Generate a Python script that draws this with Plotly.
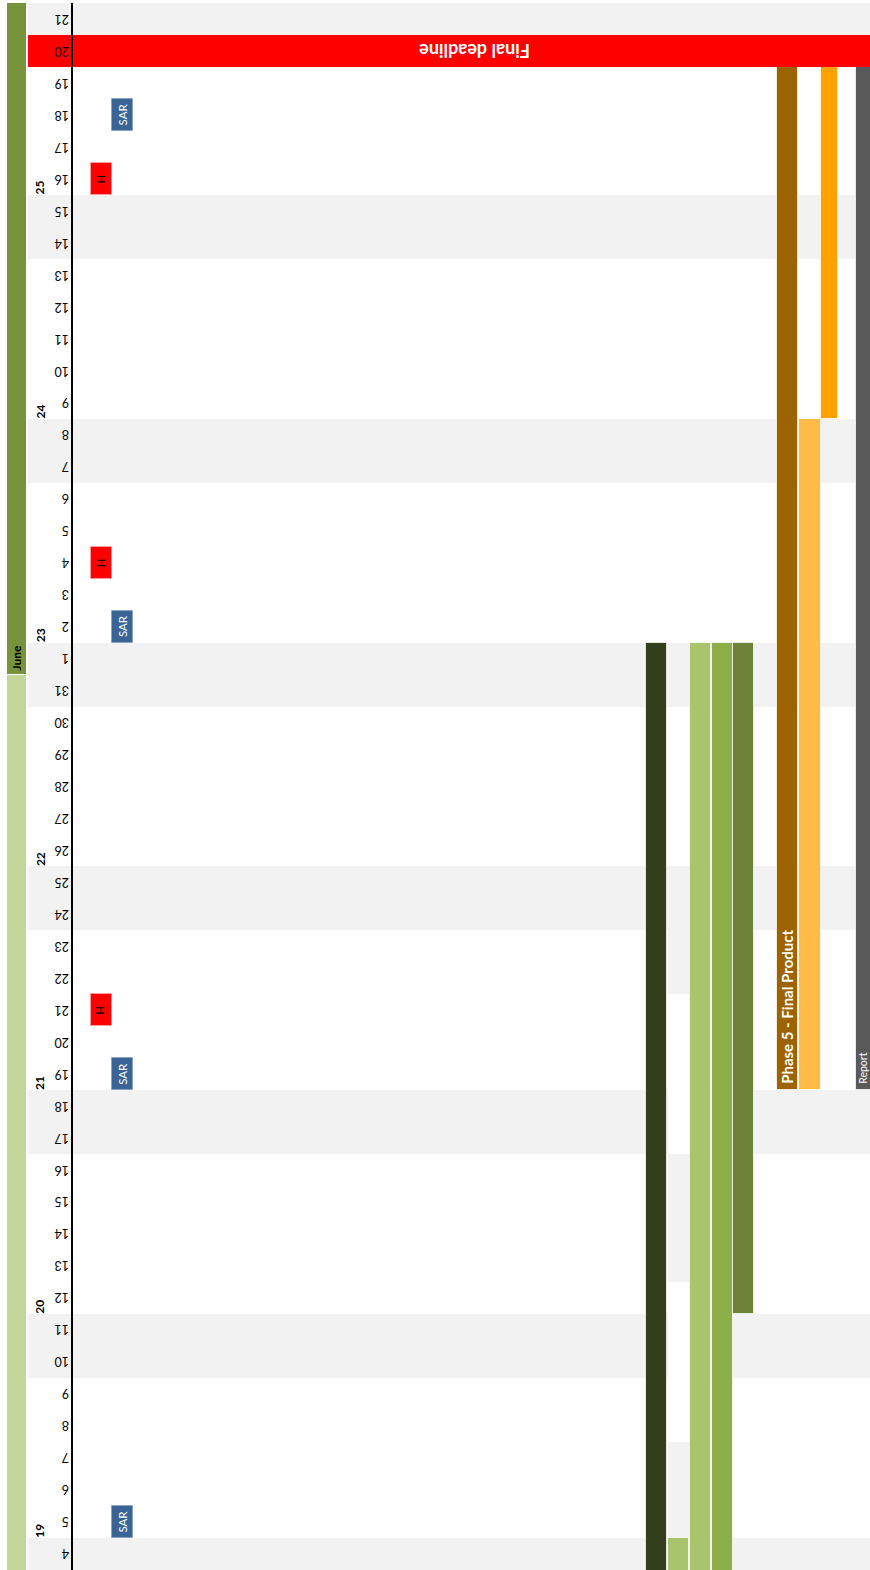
import datetime as dt
import plotly.graph_objects as go

# ---------------------------------------------------------------- data
FIRST_DAY = "2014-05-04"          # bottom row of the calendar
LAST_DAY = "2014-06-21"           # top row of the calendar

weekend_days = ["2014-05-04", "2014-05-10", "2014-05-11", "2014-05-17", "2014-05-18",
                "2014-05-24", "2014-05-25", "2014-05-31", "2014-06-01", "2014-06-07",
                "2014-06-08", "2014-06-14", "2014-06-15", "2014-06-21"]

week_numbers = [19, 20, 21, 22, 23, 24, 25]
week_mondays = ["2014-05-05", "2014-05-12", "2014-05-19", "2014-05-26",
                "2014-06-02", "2014-06-09", "2014-06-16"]

month_names = ["May", "June"]
month_starts = ["2014-05-01", "2014-06-01"]
month_ends = ["2014-05-31", "2014-06-30"]

task_labels = ["", "", "", "", "", "Phase 5 - Final Product", "", "", "Report"]
task_starts = ["2014-04-22", "2014-04-22", "2014-04-28", "2014-04-28", "2014-05-12",
               "2014-05-19", "2014-05-19", "2014-06-09", "2014-05-19"]
task_ends = ["2014-06-01", "2014-05-04", "2014-06-01", "2014-06-01", "2014-06-01",
             "2014-06-19", "2014-06-08", "2014-06-19", "2014-06-19"]

# open (non-working) window and buffer blocks in the second lane
lane2_window = ("2014-05-05", "2014-05-23")
buffer_starts = ["2014-05-05", "2014-05-13", "2014-05-22"]
buffer_ends = ["2014-05-07", "2014-05-16", "2014-05-23"]

holiday_days = ["2014-05-21", "2014-06-04", "2014-06-16"]
sar_days = ["2014-05-05", "2014-05-19", "2014-06-02", "2014-06-18"]

deadline_day = "2014-06-20"
deadline_label = "Final deadline"

# ---------------------------------------------------------------- layout / style
W, H = 870, 1570
FONT = "Lato"

task_x = [656.5, 678.5, 700.5, 722.0, 743.5, 787.5, 810.0, 829.5, 866.0]
task_w = [21, 21, 21, 21, 21, 21, 22, 17, 21]
task_colors = ["#333f1c", "#a8c46c", "#a8c46c", "#8daf4a", "#6b8237",
               "#9c6300", "#ffbb47", "#ffa200", "#595959"]
# label style per task: (font size, bold, horizontal nudge in px)
task_label_style = [None, None, None, None, None,
                    (15, True, 0), None, None, (10.5, False, -3)]

MONTH_X, MONTH_W = 17, 20
month_colors = ["#c4d79b", "#77933c"]
BAND_X0, BAND_X1 = 28, W
DEADLINE_TEXT_X = 475
HOLIDAY_X, SAR_X, MS_W = 101, 122.5, 21
AXIS_X = 72

first = dt.date.fromisoformat(FIRST_DAY)
last = dt.date.fromisoformat(LAST_DAY)
n_days = (last - first).days + 1


def di(s):
    """Row index of a date (0 = first visible day)."""
    return (dt.date.fromisoformat(s) - first).days


def span(s, e):
    return di(s), di(e) - di(s) + 1


fig = go.Figure()
edge = dict(color="rgba(255,255,255,0.75)", width=1)

# weekend shading
fig.add_trace(go.Bar(
    x=[(BAND_X0 + BAND_X1) / 2] * len(weekend_days),
    base=[di(s) for s in weekend_days], y=[1] * len(weekend_days),
    width=[BAND_X1 - BAND_X0] * len(weekend_days),
    marker=dict(color="#f2f2f2", line=dict(width=0)), hoverinfo="skip"))

# month strip
for name, s, e, c in zip(month_names, month_starts, month_ends, month_colors):
    b, L = span(s, e)
    fig.add_trace(go.Bar(x=[MONTH_X], base=[b], y=[L], width=[MONTH_W],
                         marker=dict(color=c, line=dict(color="white", width=1)),
                         hoverinfo="skip"))
    if 0 <= b < n_days:
        fig.add_annotation(x=MONTH_X, y=b, xref="x", yref="y", text=name,
                           textangle=-90, yanchor="bottom", yshift=2, showarrow=False,
                           font=dict(family=FONT, size=12, color="black", weight="bold"))

# lane two: cleared window with buffer blocks
b, L = span(*lane2_window)
fig.add_trace(go.Bar(x=[task_x[1]], base=[b], y=[L], width=[task_w[1] + 1],
                     marker=dict(color="white", line=dict(width=0)), hoverinfo="skip"))
fig.add_trace(go.Bar(
    x=[task_x[1]] * len(buffer_starts),
    base=[span(s, e)[0] for s, e in zip(buffer_starts, buffer_ends)],
    y=[span(s, e)[1] for s, e in zip(buffer_starts, buffer_ends)],
    width=[task_w[1] + 1] * len(buffer_starts),
    marker=dict(color="#f2f2f2", line=dict(width=0)), hoverinfo="skip"))

# task bars
for i, (s, e) in enumerate(zip(task_starts, task_ends)):
    b, L = span(s, e)
    fig.add_trace(go.Bar(x=[task_x[i]], base=[b], y=[L], width=[task_w[i]],
                         marker=dict(color=task_colors[i], line=edge), hoverinfo="skip"))
    if task_labels[i] and task_label_style[i]:
        size, bold, nudge = task_label_style[i]
        fig.add_annotation(x=task_x[i], y=max(b, 0), xref="x", yref="y",
                           text=task_labels[i], textangle=-90, yanchor="bottom",
                           xshift=nudge, yshift=4, showarrow=False,
                           font=dict(family=FONT, size=size, color="white",
                                     weight="bold" if bold else "normal"))

# milestones
fig.add_trace(go.Bar(x=[HOLIDAY_X] * len(holiday_days), base=[di(s) for s in holiday_days],
                     y=[1] * len(holiday_days), width=[MS_W] * len(holiday_days),
                     marker=dict(color="#ff0000", line=dict(color="#ff9a9a", width=1)),
                     hoverinfo="skip"))
fig.add_trace(go.Bar(x=[SAR_X] * len(sar_days), base=[di(s) for s in sar_days],
                     y=[1] * len(sar_days), width=[MS_W] * len(sar_days),
                     marker=dict(color="#3b6496", line=dict(color="#8aa4c8", width=1)),
                     hoverinfo="skip"))
for s in holiday_days:
    fig.add_annotation(x=HOLIDAY_X, y=di(s) + 0.5, xref="x", yref="y", text="H",
                       textangle=90, showarrow=False,
                       font=dict(family=FONT, size=11, color="black"))
for s in sar_days:
    fig.add_annotation(x=SAR_X, y=di(s) + 0.5, xref="x", yref="y", text="SAR",
                       textangle=-90, showarrow=False,
                       font=dict(family=FONT, size=11.5, color="white"))

# deadline band
fig.add_trace(go.Bar(x=[(BAND_X0 + BAND_X1) / 2], base=[di(deadline_day)], y=[1],
                     width=[BAND_X1 - BAND_X0],
                     marker=dict(color="#ff0000", line=dict(width=0)), hoverinfo="skip"))
fig.add_annotation(x=DEADLINE_TEXT_X, y=di(deadline_day) + 0.5, xref="x", yref="y",
                   text=deadline_label, textangle=180, showarrow=False,
                   font=dict(family=FONT, size=18, color="white", weight="bold"))

# day numbers (upside down) and ISO week numbers
for k in range(n_days):
    day = first + dt.timedelta(days=k)
    fig.add_annotation(x=AXIS_X - 1, y=k + 0.5, xref="x", yref="y", text=str(day.day),
                       textangle=180, xanchor="right", showarrow=False,
                       font=dict(family=FONT, size=12.5, color="black"))
for wk, mon in zip(week_numbers, week_mondays):
    fig.add_annotation(x=40, y=di(mon) + 0.23, xref="x", yref="y", text=str(wk),
                       textangle=-90, showarrow=False,
                       font=dict(family=FONT, size=12, color="black", weight="bold"))

fig.update_layout(
    width=W, height=H, margin=dict(l=0, r=0, t=3, b=0),
    paper_bgcolor="white", plot_bgcolor="white",
    barmode="overlay", bargap=0, showlegend=False,
    xaxis=dict(range=[0, W], visible=False, fixedrange=True),
    yaxis=dict(range=[0, n_days], anchor="free", position=AXIS_X / W,
               showline=True, linecolor="black", linewidth=2,
               showticklabels=False, ticks="", showgrid=False, zeroline=False),
)

fig.write_html("out.html")
